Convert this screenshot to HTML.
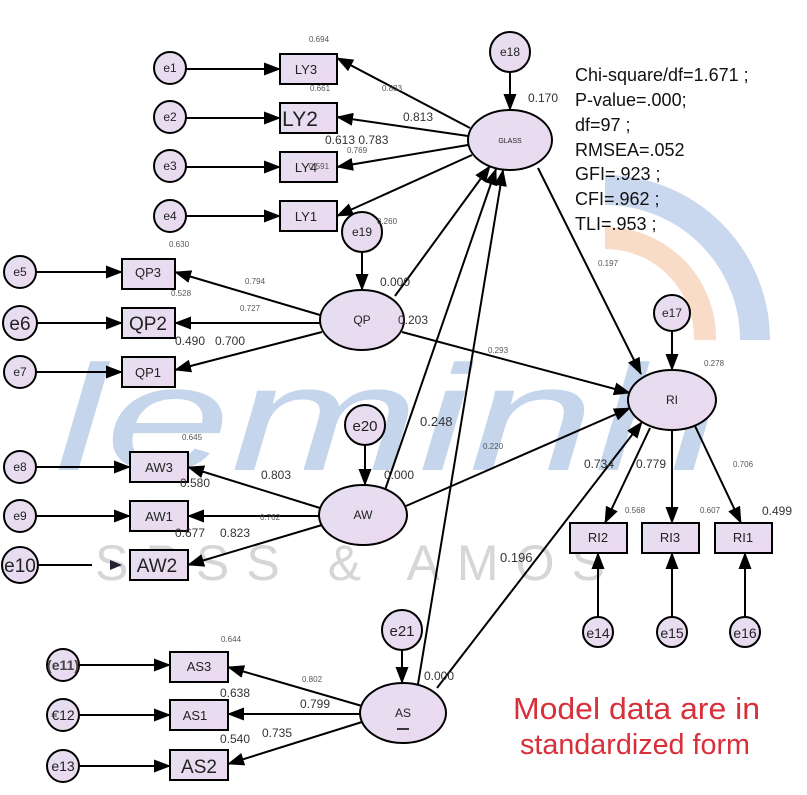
<!DOCTYPE html>
<html><head><meta charset="utf-8"><style>
html,body{margin:0;padding:0;background:#fff;}
svg{display:block;font-family:"Liberation Sans",sans-serif;}
</style></head><body>
<svg width="807" height="795" viewBox="0 0 807 795" xmlns="http://www.w3.org/2000/svg">
<defs>
<marker id="b" markerWidth="17" markerHeight="13" refX="16" refY="6.5" orient="auto" markerUnits="userSpaceOnUse"><path d="M0,0 L17,6.5 L0,13 z" fill="#000"/></marker>
<linearGradient id="g" x1="0" y1="0" x2="1" y2="1"><stop offset="0" stop-color="#e4e0f0"/><stop offset="1" stop-color="#ecd8f0"/></linearGradient>
</defs>
<!-- watermark -->
<path d="M605,190 A150,150 0 0 1 755,340" fill="none" stroke="#c9d8ee" stroke-width="30"/>
<path d="M605,238 A100,100 0 0 1 705,340" fill="none" stroke="#f8dcc8" stroke-width="22"/>
<text x="55" y="470" font-size="150" font-style="italic" fill="#c4d5ec" textLength="665" lengthAdjust="spacingAndGlyphs">leminh</text>
<text x="95" y="580" font-size="50" fill="#d6d6d6" textLength="510" lengthAdjust="spacing">SPSS &amp; AMOS</text>

<g stroke="#000" stroke-width="2" fill="none">
<line x1="186" y1="69" x2="280" y2="69" marker-end="url(#b)"/>
<line x1="186" y1="118" x2="280" y2="118" marker-end="url(#b)"/>
<line x1="186" y1="167" x2="280" y2="167" marker-end="url(#b)"/>
<line x1="186" y1="216" x2="280" y2="216" marker-end="url(#b)"/>
<line x1="36" y1="272" x2="122" y2="272" marker-end="url(#b)"/>
<line x1="36" y1="323" x2="122" y2="323" marker-end="url(#b)"/>
<line x1="36" y1="372" x2="122" y2="372" marker-end="url(#b)"/>
<line x1="36" y1="467" x2="130" y2="467" marker-end="url(#b)"/>
<line x1="36" y1="516" x2="130" y2="516" marker-end="url(#b)"/>
<line x1="38" y1="565" x2="92" y2="565"/>
<line x1="79" y1="665" x2="170" y2="665" marker-end="url(#b)"/>
<line x1="79" y1="715" x2="170" y2="715" marker-end="url(#b)"/>
<line x1="79" y1="766" x2="170" y2="766" marker-end="url(#b)"/>
<line x1="470" y1="128" x2="337" y2="58" marker-end="url(#b)"/>
<line x1="468" y1="136" x2="337" y2="117" marker-end="url(#b)"/>
<line x1="468" y1="145" x2="337" y2="167" marker-end="url(#b)"/>
<line x1="472" y1="155" x2="337" y2="216" marker-end="url(#b)"/>
<line x1="320" y1="315" x2="175" y2="272" marker-end="url(#b)"/>
<line x1="320" y1="323" x2="175" y2="323" marker-end="url(#b)"/>
<line x1="322" y1="332" x2="175" y2="370" marker-end="url(#b)"/>
<line x1="320" y1="508" x2="188" y2="467" marker-end="url(#b)"/>
<line x1="320" y1="516" x2="188" y2="516" marker-end="url(#b)"/>
<line x1="322" y1="525" x2="188" y2="565" marker-end="url(#b)"/>
<line x1="362" y1="706" x2="228" y2="667" marker-end="url(#b)"/>
<line x1="360" y1="714" x2="228" y2="714" marker-end="url(#b)"/>
<line x1="362" y1="722" x2="228" y2="764" marker-end="url(#b)"/>
<line x1="510" y1="72" x2="510" y2="110" marker-end="url(#b)"/>
<line x1="362" y1="252" x2="362" y2="290" marker-end="url(#b)"/>
<line x1="365" y1="445" x2="365" y2="485" marker-end="url(#b)"/>
<line x1="402" y1="650" x2="402" y2="683" marker-end="url(#b)"/>
<line x1="672" y1="331" x2="672" y2="370" marker-end="url(#b)"/>
<line x1="395" y1="296" x2="490" y2="166" marker-end="url(#b)"/>
<line x1="385" y1="490" x2="496" y2="169" marker-end="url(#b)"/>
<line x1="418" y1="684" x2="503" y2="170" marker-end="url(#b)"/>
<line x1="538" y1="168" x2="641" y2="374" marker-end="url(#b)"/>
<line x1="402" y1="332" x2="630" y2="393" marker-end="url(#b)"/>
<line x1="406" y1="506" x2="630" y2="408" marker-end="url(#b)"/>
<line x1="437" y1="688" x2="642" y2="422" marker-end="url(#b)"/>
<line x1="650" y1="428" x2="605" y2="523" marker-end="url(#b)"/>
<line x1="672" y1="430" x2="672" y2="523" marker-end="url(#b)"/>
<line x1="695" y1="426" x2="741" y2="523" marker-end="url(#b)"/>
<line x1="598" y1="617" x2="598" y2="553" marker-end="url(#b)"/>
<line x1="672" y1="617" x2="672" y2="553" marker-end="url(#b)"/>
<line x1="745" y1="617" x2="745" y2="553" marker-end="url(#b)"/>
</g>
<path d="M110,560 L122,565 L110,570z" fill="#223"/>

<g stroke="#000" stroke-width="2" fill="url(#g)">
<circle cx="170" cy="68" r="16"/><circle cx="170" cy="117" r="16"/><circle cx="170" cy="166" r="16"/><circle cx="170" cy="216" r="16"/>
<circle cx="20" cy="272" r="16"/><circle cx="20" cy="323" r="17"/><circle cx="20" cy="372" r="16"/>
<circle cx="20" cy="467" r="16"/><circle cx="20" cy="516" r="16"/><circle cx="20" cy="565" r="18"/>
<circle cx="63" cy="665" r="16"/><circle cx="63" cy="715" r="16"/><circle cx="63" cy="766" r="16"/>
<circle cx="510" cy="52" r="20"/><circle cx="362" cy="232" r="20"/><circle cx="365" cy="425" r="20"/><circle cx="402" cy="630" r="20"/><circle cx="672" cy="313" r="18"/>
<circle cx="598" cy="632" r="15"/><circle cx="672" cy="632" r="15"/><circle cx="745" cy="632" r="15"/>
<ellipse cx="510" cy="140" rx="42" ry="30"/><ellipse cx="362" cy="320" rx="42" ry="30"/><ellipse cx="363" cy="515" rx="44" ry="30"/><ellipse cx="403" cy="713" rx="43" ry="30"/><ellipse cx="672" cy="400" rx="44" ry="30"/>
<rect x="280" y="54" width="57" height="30"/><rect x="280" y="103" width="57" height="30"/><rect x="280" y="152" width="57" height="30"/><rect x="280" y="201" width="57" height="30"/>
<rect x="122" y="259" width="53" height="30"/><rect x="122" y="308" width="53" height="30"/><rect x="122" y="357" width="53" height="30"/>
<rect x="130" y="452" width="58" height="30"/><rect x="130" y="501" width="58" height="30"/><rect x="130" y="550" width="58" height="30"/>
<rect x="170" y="652" width="58" height="30"/><rect x="170" y="700" width="58" height="30"/><rect x="170" y="750" width="58" height="30"/>
<rect x="570" y="523" width="57" height="30"/><rect x="642" y="523" width="57" height="30"/><rect x="715" y="523" width="57" height="30"/>
</g>

<g fill="#222" text-anchor="middle" font-size="12">
<text x="170" y="72">e1</text><text x="170" y="121">e2</text><text x="170" y="170">e3</text><text x="170" y="220">e4</text>
<text x="20" y="276">e5</text><text x="20" y="330" font-size="19">e6</text><text x="20" y="376">e7</text>
<text x="20" y="471">e8</text><text x="20" y="520">e9</text><text x="20" y="572" font-size="19">e10</text>
<text x="63" y="670" font-size="14" font-weight="bold" fill="#444">(e11)</text><text x="63" y="720" font-size="14">€12</text><text x="63" y="771" font-size="14">e13</text>
<text x="510" y="56">e18</text><text x="362" y="236">e19</text><text x="365" y="431" font-size="15">e20</text><text x="402" y="636" font-size="15">e21</text><text x="672" y="317">e17</text>
<text x="598" y="638" font-size="14">e14</text><text x="672" y="638" font-size="14">e15</text><text x="745" y="638" font-size="14">e16</text>
<text x="510" y="143" font-size="7">GLASS</text><text x="362" y="324" font-size="12">QP</text><text x="363" y="519" font-size="12">AW</text><text x="403" y="717" font-size="12">AS</text><text x="672" y="404" font-size="12">RI</text>
<text x="306" y="74" font-size="13">LY3</text><text x="300" y="126" font-size="21">LY2</text><text x="306" y="172" font-size="13">LY4</text><text x="306" y="221" font-size="13">LY1</text>
<text x="148" y="277" font-size="13">QP3</text><text x="148" y="330" font-size="19">QP2</text><text x="148" y="377" font-size="13">QP1</text>
<text x="159" y="472" font-size="13">AW3</text><text x="159" y="521" font-size="13">AW1</text><text x="157" y="572" font-size="19">AW2</text>
<text x="199" y="671" font-size="13">AS3</text><text x="195" y="720" font-size="13">AS1</text><text x="199" y="773" font-size="19">AS2</text>
<text x="598" y="542" font-size="13">RI2</text><text x="670" y="542" font-size="13">RI3</text><text x="743" y="542" font-size="13">RI1</text>
</g>
<line x1="397" y1="729" x2="409" y2="729" stroke="#000" stroke-width="1.5"/>

<g fill="#555" font-size="8">
<text x="309" y="42">0.694</text><text x="310" y="91">0.661</text><text x="382" y="91">0.833</text><text x="347" y="153">0.769</text><text x="309" y="169">0.591</text><text x="377" y="224">0.260</text>
<text x="169" y="247">0.630</text><text x="245" y="284">0.794</text><text x="171" y="296">0.528</text><text x="240" y="311">0.727</text><text x="488" y="353">0.293</text><text x="598" y="266">0.197</text>
<text x="182" y="440">0.645</text><text x="483" y="449">0.220</text><text x="260" y="520">0.762</text><text x="221" y="642">0.644</text><text x="302" y="682">0.802</text>
<text x="704" y="366">0.278</text><text x="625" y="513">0.568</text><text x="700" y="513">0.607</text><text x="733" y="467">0.706</text>
</g>
<g fill="#333" font-size="12">
<text x="528" y="102">0.170</text><text x="403" y="121">0.813</text><text x="325" y="144">0.613 0.783</text>
<text x="380" y="286">0.000</text><text x="398" y="324">0.203</text><text x="175" y="345">0.490</text><text x="215" y="345">0.700</text>
<text x="420" y="426" font-size="13">0.248</text><text x="261" y="479">0.803</text><text x="180" y="487">0.580</text><text x="384" y="479">0.000</text>
<text x="175" y="537">0.677</text><text x="220" y="537">0.823</text><text x="500" y="562" font-size="13">0.196</text>
<text x="584" y="468">0.734</text><text x="636" y="468">0.779</text><text x="762" y="515">0.499</text>
<text x="424" y="680">0.000</text><text x="220" y="697">0.638</text><text x="300" y="708">0.799</text><text x="220" y="743">0.540</text><text x="262" y="737">0.735</text>
</g>
<g fill="#111" font-size="18">
<text x="575" y="81">Chi-square/df=1.671 ;</text><text x="575" y="106">P-value=.000;</text><text x="575" y="131">df=97 ;</text><text x="575" y="156">RMSEA=.052</text><text x="575" y="180">GFI=.923 ;</text><text x="575" y="205">CFI=.962 ;</text><text x="575" y="230">TLI=.953 ;</text>
</g>
<g fill="#d8303a" font-size="31">
<text x="513" y="719" textLength="247" lengthAdjust="spacingAndGlyphs">Model data are in</text><text x="520" y="754" font-size="29" textLength="230" lengthAdjust="spacingAndGlyphs">standardized form</text>
</g>
</svg>
</body></html>
